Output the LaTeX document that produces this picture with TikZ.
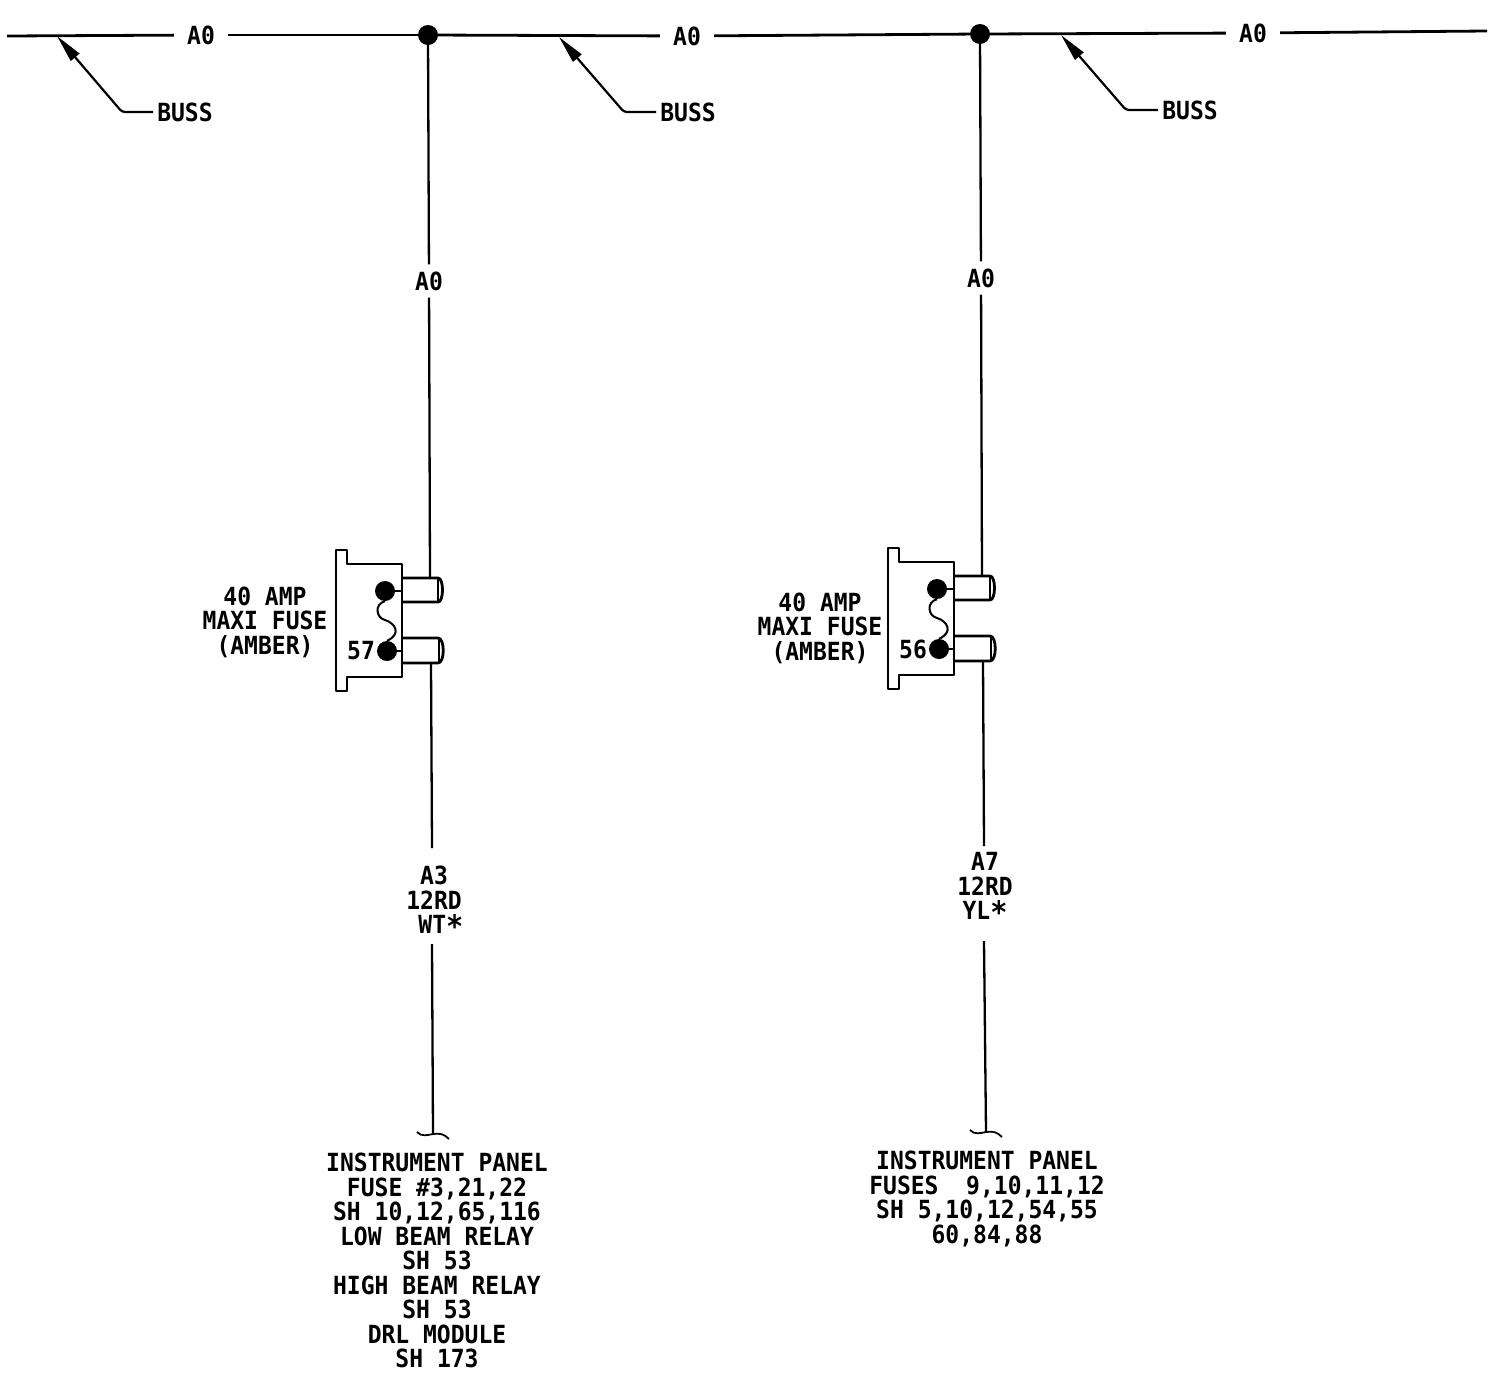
\documentclass[tikz,border=0pt]{standalone}
\usepackage{fontspec}
\setmonofont[FakeStretch=0.92]{DejaVu Sans Mono}
\usetikzlibrary{arrows.meta,positioning}
\newcommand{\bigstar}{\smash{\raisebox{-4pt}{\fontsize{31}{31}\selectfont *}}}

\begin{document}
\begin{tikzpicture}[
        x=1pt, y=-1pt,
        every node/.style={inner sep=0pt, align=center, font=\ttfamily\bfseries\fontsize{25}{24.5}\selectfont},
        wirelabel/.style={inner xsep=13pt, inner ysep=7pt},
        wire/.style={line width=2.3pt},
        buswire/.style={line width=2.8pt},
        leader/.style={line width=2.2pt, {Triangle[length=28pt,width=11pt]}-, rounded corners=3pt},
        dot/.style={circle, fill=black, minimum size=20pt},
        fusebody/.style={line width=2.8pt, line join=round}
    ]
    \useasboundingbox (0,0) rectangle (1504,1374);

    % Buss
    \coordinate (busl) at (7,36);
    \coordinate (busr) at (1487,31);
    \node[wirelabel] (bus1) at (201,35) {A0};
    \node[dot] (jun1) at (428,35) {};
    \node[wirelabel] (bus2) at (687,36) {A0};
    \node[dot] (jun2) at (980,34) {};
    \node[wirelabel] (bus3) at (1253,33) {A0};
    \draw[buswire] (busl) -- (bus1);
    \draw[buswire] (bus1) -- (jun1);
    \draw[buswire] (jun1) -- (bus2);
    \draw[buswire] (bus2) -- (jun2);
    \draw[buswire] (jun2) -- (bus3);
    \draw[buswire] (bus3) -- (busr);

    % Buss callouts
    \node[inner xsep=4pt] (buss1) at (185,112) {BUSS};
    \node[inner xsep=4pt] (buss2) at (688,112) {BUSS};
    \node[inner xsep=4pt] (buss3) at (1190,110) {BUSS};
    \coordinate (tip1) at (57,36);
    \coordinate (tip2) at (559,37);
    \coordinate (tip3) at (1061,35);
    \draw[leader] (tip1) -- (122,112) -- (buss1.west);
    \draw[leader] (tip2) -- (624,112) -- (buss2.west);
    \draw[leader] (tip3) -- (1126,110) -- (buss3.west);

    % Fuses
    \foreach \dx/\dy/\fnum in {0/0/57, 552/-2/56} {
      \begin{scope}[shift={(\dx,\dy)}]
        \draw[fusebody] (336,550) -- (347,550) -- (347,564) -- (402,564) -- (402,677)
          -- (347,677) -- (347,691) -- (336,691) -- cycle;
        \draw[fusebody] (402,578) -- (438,578) .. controls (444,578) and (444,602) .. (438,602) -- (402,602);
        \draw[fusebody] (402,638) -- (438,638) .. controls (445,638) and (445,663) .. (438,663) -- (402,663);
        \draw[line width=1.8pt] (438,578) -- (438,602) (439,638) -- (439,663);
        \node[dot] (dota\fnum) at (385,591) {};
        \node[dot] (dotb\fnum) at (387,651) {};
        \node (num\fnum) at (361,651) {\fnum};
        \draw[line width=2pt] (dota\fnum) -- (402,591);
        \draw[line width=2pt] (dotb\fnum) -- (402,651);
        \draw[line width=2pt] (dota\fnum.south) .. controls (374,604) and (376,618) .. (385,620)
          .. controls (395,623) and (402,634) .. (dotb\fnum.north);
      \end{scope}
    }
    \node (fuselabel1) at (265,622) {40 AMP\\MAXI FUSE\\(AMBER)};
    \node (fuselabel2) at (820,628) {40 AMP\\MAXI FUSE\\(AMBER)};

    % Left branch
    \node[wirelabel] (a01) at (429,281) {A0};
    \coordinate (pin1a) at (430,578);
    \coordinate (pin1b) at (431,663);
    \node (a3) at (434,900) {A3\\12RD\\\ WT\bigstar};
    \coordinate (a3top) at (432,848);
    \coordinate (a3bot) at (432,944);
    \coordinate (end1) at (433,1134);
    \draw[wire] (jun1) -- (a01);
    \draw[wire] (a01) -- (pin1a);
    \draw[wire] (pin1b) -- (a3top);
    \draw[wire] (a3bot) -- (end1);
    \draw[line width=1.8pt] (417,1132) .. controls (421,1137) and (428,1135) .. (end1)
      .. controls (440,1133) and (444,1134) .. (449,1139);
    \node[anchor=north] (dest1) at (437,1153) {INSTRUMENT PANEL\\FUSE \#3,21,22\\SH 10,12,65,116\\LOW BEAM RELAY\\SH 53\\HIGH BEAM RELAY\\SH 53\\DRL MODULE\\SH 173};

    % Right branch
    \node[wirelabel] (a02) at (981,278) {A0};
    \coordinate (pin2a) at (982,576);
    \coordinate (pin2b) at (983,661);
    \node (a7) at (985,886) {A7\\12RD\\YL\bigstar};
    \coordinate (a7top) at (984,846);
    \coordinate (a7bot) at (984,941);
    \coordinate (end2) at (986,1132);
    \draw[wire] (jun2) -- (a02);
    \draw[wire] (a02) -- (pin2a);
    \draw[wire] (pin2b) -- (a7top);
    \draw[wire] (a7bot) -- (end2);
    \draw[line width=1.8pt] (970,1130) .. controls (974,1135) and (981,1133) .. (end2)
      .. controls (993,1131) and (997,1132) .. (1002,1137);
    \node[anchor=north] (dest2) at (987,1151) {INSTRUMENT PANEL\\FUSES\ \ 9,10,11,12\\SH 5,10,12,54,55\\60,84,88};
\end{tikzpicture}
\end{document}
